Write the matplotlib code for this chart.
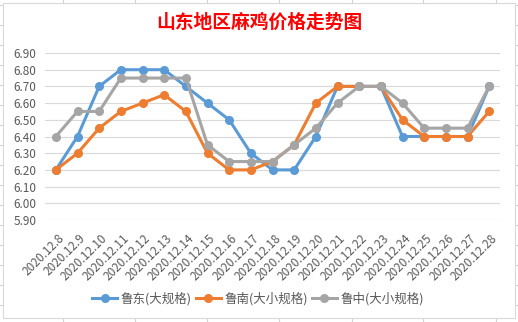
import matplotlib.pyplot as plt
import matplotlib.transforms as mtransforms
from matplotlib.patches import Rectangle
from matplotlib.lines import Line2D

plt.rcParams['font.family'] = ['Noto Sans CJK SC', 'DejaVu Sans']

# -------------------------------------------------
# Data
# -------------------------------------------------
dates = ["2020.12.%d" % d for d in range(8, 29)]

ludong = [6.20, 6.40, 6.70, 6.80, 6.80, 6.80, 6.70, 6.60, 6.50, 6.30, 6.20,
          6.20, 6.40, 6.70, 6.70, 6.70, 6.40, 6.40, 6.40, 6.40, 6.70]
lunan = [6.20, 6.30, 6.45, 6.55, 6.60, 6.65, 6.55, 6.30, 6.20, 6.20, 6.25,
         6.35, 6.60, 6.70, 6.70, 6.70, 6.50, 6.40, 6.40, 6.40, 6.55]
luzhong = [6.40, 6.55, 6.55, 6.75, 6.75, 6.75, 6.75, 6.35, 6.25, 6.25, 6.25,
           6.35, 6.45, 6.60, 6.70, 6.70, 6.60, 6.45, 6.45, 6.45, 6.70]

series_names = ["鲁东(大规格)", "鲁南(大小规格)", "鲁中(大小规格)"]
series_colors = ["#5B9BD5", "#ED7D31", "#A5A5A5"]
yticks = [5.90, 6.00, 6.10, 6.20, 6.30, 6.40, 6.50, 6.60, 6.70, 6.80, 6.90]

W, H = 518, 322
fig = plt.figure(figsize=(W / 100, H / 100), dpi=100)

# -------------------------------------------------
# Spreadsheet cells behind the chart + chart area
# -------------------------------------------------
for x in [63, 135, 207, 279, 352, 423, 496]:
    fig.add_artist(Line2D([x / W, x / W], [0, 1], color="#D4D4D4", lw=0.8,
                          zorder=-3))
for y in range(5, H, 20):
    fig.add_artist(Line2D([0, 1], [1 - y / H, 1 - y / H], color="#D4D4D4",
                          lw=0.8, zorder=-3))
fig.add_artist(Rectangle((3 / W, 1 - 318 / H), 512 / W, 315 / H,
                         facecolor="white", edgecolor="#D9D9D9", lw=0.8,
                         zorder=-2))

# -------------------------------------------------
# Plot
# -------------------------------------------------
ax = fig.add_axes([45 / W, 1 - 220 / H, 455 / W, 167 / H])
ax.set_zorder(1)
ax.patch.set_alpha(0)
x = list(range(len(dates)))
for vals, name, col in zip([ludong, lunan, luzhong], series_names, series_colors):
    ax.plot(x, vals, color=col, lw=2.2, marker="o", ms=5.5, label=name)

ax.set_xlim(-0.5, len(dates) - 0.5)
ax.set_ylim(5.90, 6.90)
ax.set_yticks(yticks)
ax.set_yticklabels(["%.2f" % v for v in yticks])
ax.grid(axis="y", color="#D9D9D9", lw=0.8)
ax.set_axisbelow(True)
for s in ax.spines.values():
    s.set_visible(False)
ax.tick_params(axis="both", length=0, colors="#595959", labelsize=8.5)
ax.tick_params(axis="y", pad=6)

ax.set_xticks(x)
ax.set_xticklabels(dates, rotation=45, ha="right", va="center",
                   rotation_mode="anchor")
ax.tick_params(axis="x", pad=12)
offset = mtransforms.ScaledTranslation(6 / 100, 0, fig.dpi_scale_trans)
for lab in ax.get_xticklabels():
    lab.set_transform(lab.get_transform() + offset)

fig.text(0.5, 1 - 22 / H, "山东地区麻鸡价格走势图", color="red",
         fontsize=13.5, fontweight="bold", ha="center", va="center")

fig.legend(loc="center", bbox_to_anchor=(258 / W, 1 - 299 / H), ncol=3,
           frameon=False, fontsize=9, labelcolor="#595959",
           handlelength=2.0, handletextpad=0.3, columnspacing=0.3)

fig.savefig("out.png", dpi=100)
